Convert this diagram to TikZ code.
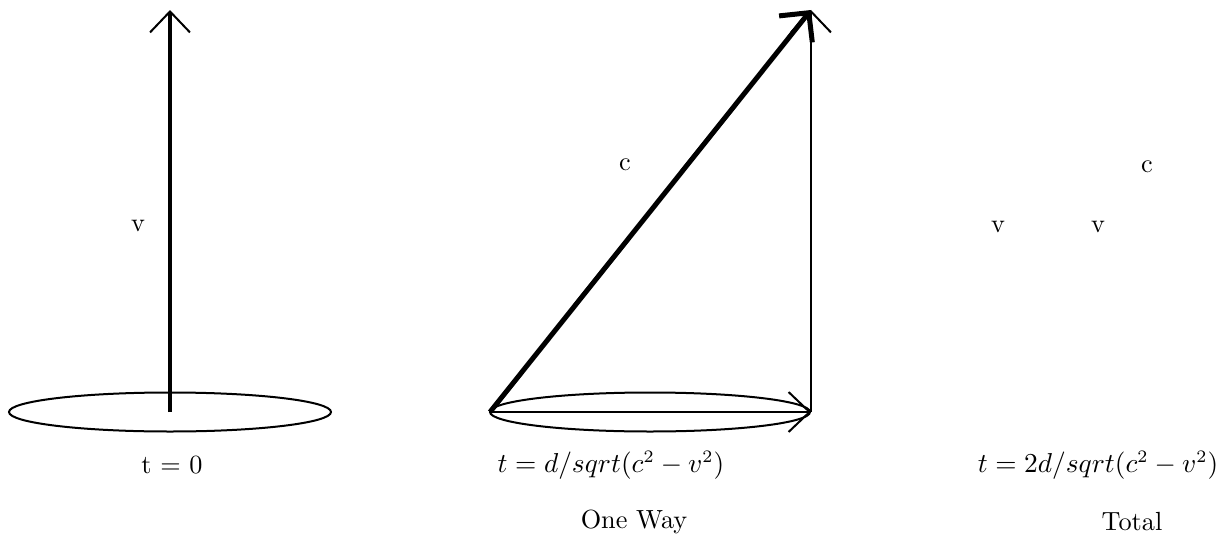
\documentclass[tikz,border=0pt]{standalone}
\usetikzlibrary{arrows.meta}
\begin{document}
\begin{tikzpicture}[x=0.4pt,y=-0.4pt,
  lbl/.style={inner sep=0pt, anchor=center, font=\fontsize{10.5pt}{12.6pt}\selectfont},
  disc/.style={draw, line width=0.8pt},
  thintip/.style={-{Straight Barb[length=8.4pt,width=16pt,line width=0.8pt]}},
  thicktip/.style={-{Straight Barb[length=8.4pt,width=17pt]}}]
\useasboundingbox (0,0) rectangle (1220,540);
% panel 1
\draw[disc] (170,412) ellipse [x radius=161, y radius=19.5];
\coordinate (a0) at (170,412);
\coordinate (a1) at (170,10);
\draw[line width=1.6pt, thintip] (a0) -- (a1);
\node[lbl] (v1) at (138,226) {v};
\node[lbl] (t1) at (172,465) {t = 0};
% panel 2
\draw[disc] (650,412) ellipse [x radius=160, y radius=19.5];
\coordinate (b0) at (490,412);
\coordinate (b1) at (811,412);
\coordinate (b2) at (811,10);
\draw[line width=0.8pt, thintip] (b0) -- (b1);
\draw[line width=0.8pt, thintip] (b1) -- (b2);
\draw[line width=2pt, thicktip] (b0) -- (b2);
\node[lbl] (c2) at (625,165) {c};
\node[lbl] (t2) at (611,465) {$t = d/sqrt(c^2 - v^2)$};
\node[lbl] (w2) at (634,522) {One Way};
% panel 3
\node[lbl] (v3a) at (998,227) {v};
\node[lbl] (v3b) at (1098,227) {v};
\node[lbl] (c3) at (1147,167) {c};
\node[lbl] (t3) at (1098,465) {$t = 2d/sqrt(c^2 - v^2)$};
\node[lbl] (w3) at (1132,522) {Total};
\end{tikzpicture}
\end{document}
